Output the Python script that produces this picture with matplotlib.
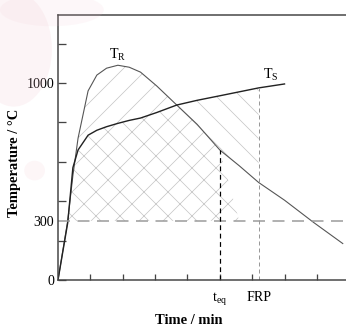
import matplotlib
matplotlib.use("Agg")
import matplotlib.pyplot as plt
import numpy as np
from matplotlib.patches import Ellipse

plt.rcParams.update({"font.family": "Liberation Serif", "hatch.linewidth": 0.7})

# data (time in tick units, temperature in degC)
TIME = [0, 0.3, 0.46, 0.62, 0.93, 1.2, 1.5, 1.85, 2.2, 2.55, 3.05, 3.67,
        4.3, 5.0, 5.6, 6.2, 7.0, 7.9, 8.8]
T_R = [0, 300, 530, 720, 960, 1040, 1075, 1090, 1080, 1055, 985, 888,
       790, 660, 580, 495, 405, 292, 185]
T_S = [0, 290, 570, 660, 735, 760, 778, 795, 810, 822, 850, 888,
       912, 935, 955, 975, 995]
T_LIMIT = 300
T_EQ = 5.0
FRP = 6.2

t = np.array(TIME)
tr = np.array(T_R)
ts = np.array(T_S)
n = len(ts)
t_s = t[:n]
tr_s = tr[:n]

fig = plt.figure(figsize=(346 / 72, 328 / 72), dpi=72)
# faint pink watermark in the corner
for (cx, cy, w, h, a) in [(0.04, 0.85, 0.22, 0.35, 0.18), (0.15, 0.97, 0.3, 0.1, 0.12),
                          (0.1, 0.48, 0.06, 0.06, 0.15)]:
    fig.patches.append(Ellipse((cx, cy), w, h, transform=fig.transFigure,
                               color="#f3c4cf", alpha=a, lw=0))

ax = fig.add_axes([58 / 346, 48 / 328, 1 - 58 / 346, 265 / 328])
ax.set_xlim(0, 8.9)
ax.set_ylim(0, 1345)

HATCH = "#c4c4c4"
# T_R above T_S
ax.fill_between(t_s, ts, tr_s, where=tr_s >= ts, interpolate=True,
                facecolor="none", edgecolor=HATCH, hatch="/", lw=0)
# under both curves, above 300, up to t_eq
low = np.minimum(tr_s, ts)
ax.fill_between(t_s, T_LIMIT, low, where=(t_s <= T_EQ) & (low >= T_LIMIT),
                interpolate=True, facecolor="none", edgecolor=HATCH, hatch="x", lw=0)
# T_S above T_R, up to FRP
ax.fill_between(t_s, tr_s, ts, where=(ts >= tr_s) & (t_s <= FRP), interpolate=True,
                facecolor="none", edgecolor=HATCH, hatch="\\", lw=0)

ax.plot(t, tr, color="#555555", lw=1.1)
ax.plot(t_s, ts, color="#222222", lw=1.4)

ax.axhline(T_LIMIT, color="#999999", lw=1.5, dashes=(8, 5))
ax.plot([T_EQ, T_EQ], [0, np.interp(T_EQ, t, tr)], color="black", lw=1.2, dashes=(4, 3))
ax.plot([FRP, FRP], [0, np.interp(FRP, t_s, ts)], color="#999999", lw=1.0, dashes=(4, 3))

ax.text(1.85, 1100, "T$_\\mathregular{R}$", ha="center", va="bottom", fontsize=14)
ax.text(6.35, 1000, "T$_\\mathregular{S}$", ha="left", va="bottom", fontsize=14)

for s in ["left", "bottom", "top"]:
    ax.spines[s].set_color("#444444")
    ax.spines[s].set_linewidth(1.5)
ax.spines["right"].set_visible(False)

ax.set_yticks(range(0, 1201, 200))
ax.set_yticklabels(["0", "", "", "", "", "1000", ""])
ax.set_yticks([T_LIMIT], ["300"], minor=True)
ax.tick_params(axis="y", which="major", direction="in", length=8, width=1.3,
               color="#444444", labelsize=14, pad=4)
ax.tick_params(axis="y", which="minor", length=0, labelsize=14, pad=4)
ax.set_xticks(range(1, 9))
ax.set_xticklabels([])
ax.tick_params(axis="x", direction="in", length=6, width=1.3, color="#444444")

ax.text(T_EQ, -55, "t$_\\mathregular{eq}$", ha="center", va="top", fontsize=14)
ax.text(FRP, -55, "FRP", ha="center", va="top", fontsize=14)

fig.text(189 / 346, 1 - 320 / 328, "Time / min", fontsize=14.5, fontweight="bold",
         ha="center", va="center")
fig.text(15 / 346, 1 - 163 / 328, "Temperature / °C", fontsize=14.5, fontweight="bold",
         ha="center", va="center", rotation=90)

fig.savefig("out.png", dpi=72)
